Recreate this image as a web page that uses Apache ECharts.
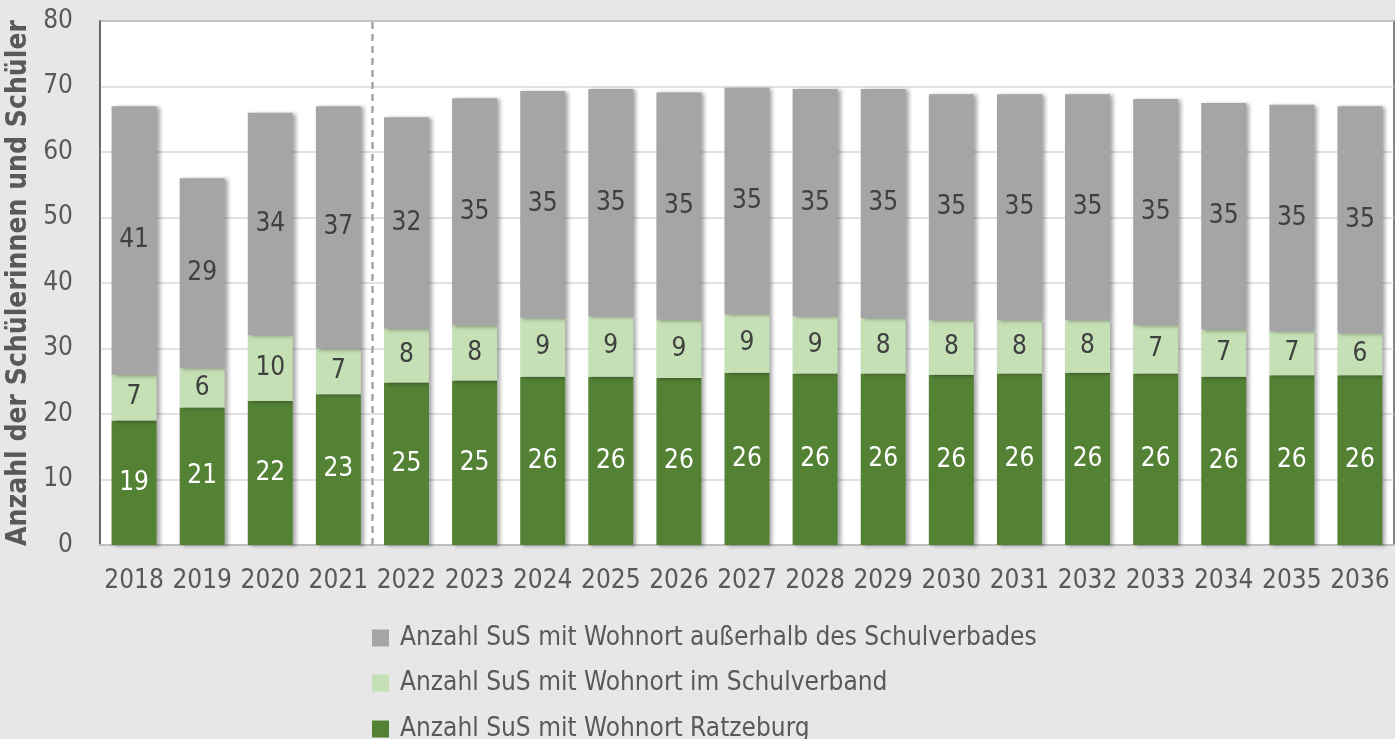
<!DOCTYPE html>
<html>
<head>
<meta charset="utf-8">
<script src="https://cdn.jsdelivr.net/npm/echarts@6/dist/echarts.min.js"></script>
<style>
  html, body { margin: 0; padding: 0; background: #e7e7e7; }
  #chart { width: 1395px; height: 739px; }
</style>
</head>
<body>
<div id="chart"></div>
<script>
// Jahre
const years = ['2018', '2019', '2020', '2021', '2022', '2023', '2024', '2025', '2026', '2027',
  '2028', '2029', '2030', '2031', '2032', '2033', '2034', '2035', '2036'];
// Wohnort Ratzeburg
const ratzeburg = [19, 21, 22, 23, 24.8, 25.1, 25.7, 25.7, 25.5, 26.3, 26.2, 26.2, 26.0, 26.2, 26.3, 26.2, 25.7, 25.9, 25.9];
// Wohnort im Schulverband
const schulverband = [7, 6, 10, 7, 8.2, 8.4, 8.9, 9.2, 8.9, 8.9, 8.7, 8.4, 8.3, 8.1, 8.0, 7.4, 7.2, 6.7, 6.4];
// Wohnort außerhalb
const ausserhalb = [41, 29, 34, 37, 32.3, 34.7, 34.7, 34.7, 34.7, 34.6, 34.7, 35.0, 34.5, 34.5, 34.5, 34.5, 34.6, 34.6, 34.7];
// Trennlinie zwischen Ist und Prognose (zwischen 2021 und 2022)
const splitAt = 3.5;

const names = [
  'Anzahl SuS mit Wohnort außerhalb des Schulverbades',
  'Anzahl SuS mit Wohnort im Schulverband',
  'Anzahl SuS mit Wohnort Ratzeburg'
];

const font = '"DejaVu Sans Condensed", "DejaVu Sans", sans-serif';

let chart = echarts.init(document.getElementById('chart'));

function barSeries(name, data, color, labelColor) {
  return {
    name: name,
    type: 'bar',
    stack: 'total',
    barWidth: '66%',
    data: data,
    itemStyle: {
      color: color,
      shadowColor: 'rgba(0,0,0,0.35)',
      shadowBlur: 4,
      shadowOffsetX: 3,
      shadowOffsetY: 1
    },
    label: {
      show: true,
      position: 'inside',
      color: labelColor,
      fontFamily: font,
      fontSize: 26,
      formatter: p => Math.round(p.value)
    },
    emphasis: { disabled: true }
  };
}

// eine Legende je Zeile, damit nichts umbricht
function legendRow(name, top) {
  return {
    orient: 'vertical',
    left: 367,
    top: top,
    itemWidth: 17,
    itemHeight: 17,
    icon: 'rect',
    selectedMode: false,
    textStyle: { color: '#595959', fontFamily: font, fontSize: 26, padding: [0, 0, 0, 6] },
    data: [name]
  };
}

let option = {
  backgroundColor: '#e7e7e7',
  animation: false,
  grid: {
    left: 100,
    top: 21,
    right: 1,
    bottom: 194,
    outerBoundsMode: 'none',
    show: true,
    backgroundColor: '#ffffff',
    borderColor: '#5f5f5f',
    borderWidth: 1.5
  },
  legend: [
    legendRow(names[0], 620),
    legendRow(names[1], 665),
    legendRow(names[2], 711)
  ],
  xAxis: [
    {
      type: 'category',
      data: years,
      axisTick: { show: false },
      axisLine: { lineStyle: { color: '#bfbfbf', width: 2 } },
      axisLabel: { interval: 0, color: '#595959', fontFamily: font, fontSize: 26, margin: 23 }
    },
    {
      type: 'value',
      min: -0.5,
      max: 18.5,
      show: false
    }
  ],
  yAxis: {
    type: 'value',
    min: 0,
    max: 80,
    interval: 10,
    name: 'Anzahl der Schülerinnen und Schüler',
    nameLocation: 'middle',
    nameGap: 55,
    nameTextStyle: { color: '#595959', fontFamily: font, fontSize: 28, fontWeight: 'bold' },
    axisLine: { show: true, onZero: false, lineStyle: { color: '#5f5f5f', width: 1.5 } },
    axisTick: { show: false },
    splitLine: { lineStyle: { color: '#d9d9d9', width: 1.5 } },
    axisLabel: { color: '#595959', fontFamily: font, fontSize: 26, margin: 27 }
  },
  series: [
    barSeries(names[2], ratzeburg, '#548235', '#ffffff'),
    barSeries(names[1], schulverband, '#c5e0b4', '#404040'),
    barSeries(names[0], ausserhalb, '#a5a5a5', '#404040'),
    {
      type: 'scatter',
      xAxisIndex: 1,
      data: [],
      silent: true,
      markLine: {
        symbol: 'none',
        silent: true,
        label: { show: false },
        lineStyle: { color: '#a6a6a6', type: [7, 5], width: 2.5 },
        data: [{ xAxis: splitAt }]
      }
    }
  ]
};
chart.setOption(option);
</script>
</body>
</html>
